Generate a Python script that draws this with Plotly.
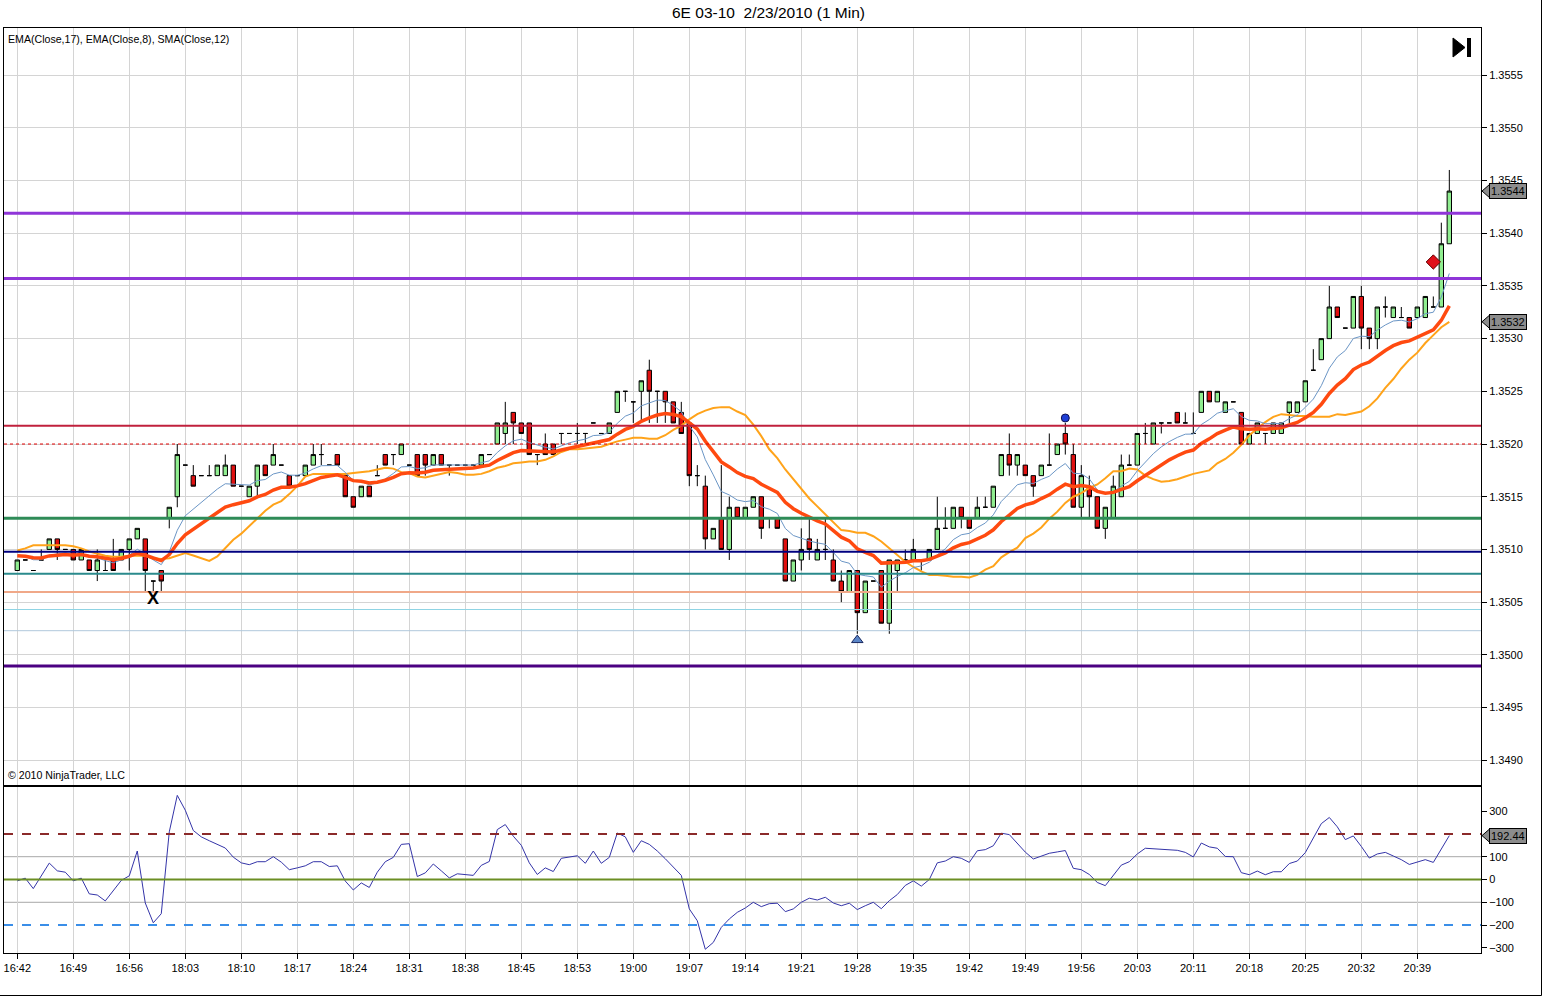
import plotly.graph_objects as go

# ---------------- figure geometry ----------------
W, H = 1543, 997
ML, MR, MT, MB = 4, 62, 28, 44
PW = W - ML - MR
PH = H - MT - MB

FONT = "Arial, 'Liberation Sans', sans-serif"

# ---------------- data ----------------
BASE = 1.3500      # prices below are in pips (0.0001) above 1.3500
TICK = 0.0001

time_labels = ["16:42", "16:49", "16:56", "18:03", "18:10", "18:17", "18:24", "18:31",
               "18:38", "18:45", "18:53", "19:00", "19:07", "19:14", "19:21", "19:28",
               "19:35", "19:42", "19:49", "19:56", "20:03", "20:11", "20:18", "20:25",
               "20:32", "20:39"]
label_step = 7

open_pips = [8, 9, 8, 9, 10, 11, 10, 10, 9, 9,
             8, 8, 9, 9, 10, 11, 11, 7, 8, 13,
             15, 18, 17, 17, 17, 17, 17, 18, 16, 15,
             16, 18, 18, 18, 17, 17, 17, 18, 19, 18,
             19, 17, 15, 15, 16, 17, 19, 19, 19, 18,
             19, 19, 18, 19, 18, 18, 18, 18, 18, 19,
             20, 21, 23, 22, 22, 19, 20, 20, 21, 21,
             21, 21, 22, 21, 21, 23, 25, 24, 25, 27,
             25, 25, 24, 23, 22, 17, 16, 11, 13, 10,
             14, 13, 14, 15, 13, 13, 11, 7, 9, 11,
             9, 10, 9, 7, 6, 8, 4, 7, 8, 3,
             8, 9, 9, 9, 9, 10, 12, 12, 14, 13,
             13, 14, 14, 17, 19, 18, 18, 17, 17, 18,
             19, 21, 19, 14, 16, 15, 12, 13, 15, 18,
             18, 21, 20, 22, 22, 23, 22, 21, 23, 25,
             24, 23, 24, 23, 20, 21, 21, 21, 21, 23,
             23, 24, 27, 28, 30, 33, 31, 31, 34, 31,
             30, 33, 32, 32, 32, 32, 32, 33, 33, 39]

high_pips = [9, 9, 8, 10, 11, 11, 10, 10, 10, 9,
             10, 9, 11, 10, 11, 12, 11, 7, 8, 14,
             20, 18, 18, 17, 18, 18, 19, 18, 16, 16,
             18, 18, 20, 18, 17, 17, 18, 20, 20, 18,
             19, 17, 15, 16, 16, 18, 19, 19, 20, 18,
             19, 19, 19, 19, 18, 18, 18, 18, 19, 19,
             22, 24, 23, 22, 22, 19, 21, 20, 21, 21,
             22, 21, 22, 21, 22, 25, 25, 24, 26, 28,
             25, 25, 24, 24, 22, 18, 17, 12, 18, 15,
             14, 14, 15, 15, 13, 13, 11, 9, 12, 13,
             11, 13, 10, 8, 8, 8, 7, 7, 8, 9,
             9, 10, 11, 9, 10, 15, 14, 14, 14, 13,
             15, 15, 16, 19, 21, 19, 18, 17, 18, 21,
             20, 22, 20, 18, 17, 15, 14, 17, 19, 19,
             21, 22, 22, 22, 22, 23, 23, 23, 25, 25,
             25, 24, 24, 23, 21, 22, 21, 22, 22, 24,
             24, 26, 29, 30, 35, 33, 31, 34, 35, 31,
             33, 34, 33, 33, 32, 33, 34, 34, 41, 46]

low_pips = [8, 9, 8, 9, 10, 9, 10, 9, 9, 8,
            7, 8, 8, 9, 8, 11, 6, 6, 6, 12,
            14, 18, 16, 17, 17, 17, 17, 16, 16, 15,
            15, 17, 18, 18, 16, 17, 17, 18, 18, 18,
            18, 15, 14, 15, 15, 17, 18, 18, 19, 18,
            17, 17, 18, 18, 17, 18, 18, 18, 18, 19,
            20, 20, 20, 21, 19, 18, 19, 19, 20, 21,
            20, 20, 22, 21, 21, 23, 24, 22, 22, 22,
            22, 22, 22, 21, 16, 16, 10, 11, 10, 9,
            13, 13, 14, 11, 12, 12, 7, 7, 8, 9,
            9, 9, 7, 5, 6, 2, 4, 7, 3, 2,
            6, 9, 9, 8, 9, 10, 12, 12, 12, 12,
            13, 14, 14, 17, 17, 17, 17, 15, 17, 18,
            19, 19, 14, 13, 13, 12, 11, 13, 15, 18,
            18, 20, 20, 21, 22, 22, 22, 21, 23, 24,
            24, 23, 24, 20, 20, 21, 20, 21, 21, 22,
            23, 24, 27, 28, 30, 32, 31, 31, 29, 29,
            29, 32, 32, 32, 31, 32, 32, 33, 33, 39]

close_pips = [9, 9, 8, 9, 11, 10, 10, 9, 10, 8,
              9, 8, 8, 10, 11, 12, 8, 7, 7, 14,
              19, 18, 16, 17, 17, 18, 18, 16, 16, 16,
              18, 17, 19, 18, 16, 17, 18, 19, 19, 18,
              18, 15, 14, 16, 15, 17, 18, 19, 20, 18,
              17, 18, 19, 18, 18, 18, 18, 18, 19, 19,
              22, 22, 22, 21, 19, 19, 19, 19, 21, 21,
              21, 21, 22, 21, 22, 25, 25, 24, 26, 25,
              25, 24, 22, 21, 17, 17, 11, 12, 10, 14,
              13, 14, 15, 12, 13, 12, 7, 9, 10, 10,
              10, 10, 7, 6, 8, 4, 7, 7, 3, 9,
              9, 9, 10, 9, 10, 12, 12, 14, 13, 12,
              14, 14, 16, 19, 18, 19, 17, 16, 18, 18,
              20, 20, 14, 17, 15, 12, 14, 16, 18, 18,
              21, 21, 22, 22, 22, 22, 22, 21, 25, 24,
              25, 24, 24, 20, 21, 22, 21, 22, 22, 24,
              24, 26, 27, 30, 33, 32, 31, 34, 31, 30,
              33, 33, 33, 32, 31, 33, 34, 33, 39, 44]

cci_values = [-6, 6, -40, 16, 72, 38, 32, -6, 6, -63,
              -68, -94, -48, -4, 16, 125, -103, -190, -150, 209,
              369, 304, 215, 187, 170, 154, 138, 98, 73, 65,
              78, 78, 100, 76, 43, 51, 60, 78, 78, 57,
              60, -7, -46, -15, -35, 32, 78, 97, 154, 157,
              13, 29, 68, 38, 7, 25, 22, 18, 62, 79,
              219, 241, 190, 150, 73, 22, 51, 35, 93, 100,
              104, 71, 125, 71, 97, 204, 187, 119, 170, 154,
              125, 91, 54, 18, -129, -181, -306, -276, -210, -173,
              -144, -125, -100, -119, -106, -104, -141, -129, -100, -82,
              -90, -78, -103, -115, -104, -132, -115, -100, -128, -93,
              -66, -26, -6, -29, 0, 73, 81, 100, 93, 75,
              126, 131, 148, 203, 197, 156, 120, 90, 104, 115,
              121, 127, 49, 43, 22, -13, -27, 16, 63, 78,
              112, 137, 134, 133, 128, 128, 119, 99, 160, 143,
              137, 101, 100, 30, 21, 37, 21, 34, 34, 70,
              81, 118, 182, 245, 272, 231, 175, 191, 145, 94,
              112, 119, 103, 87, 66, 78, 87, 75, 134, 192.44]

# indicator settings (from the chart legend) and start values
EMA_SLOW_N, EMA_FAST_N, SMA_N, SMA_SHIFT = 17, 8, 12, 6
ema_slow_start = 9.4
ema_fast_start = 9.4
sma_head = [9.9, 10.1, 10.4, 10.4, 10.4, 10.4, 10.4, 10.3, 10.1, 9.8,
            9.6, 9.4, 9.3, 9.3, 9.4, 9.4, 9.4]

# horizontal drawn levels (pips above 1.3500)
level_pips = [41.9, 35.7, 21.74, 20.0, 12.95, 9.78, 7.7, 5.96, 4.3, 2.29, -1.06]
level_styles = [("#8f35d8", 3, "solid"), ("#8f35d8", 3, "solid"), ("#c0203c", 2, "solid"),
                ("#e00000", 1, "dot"), ("#2e8b57", 3, "solid"), ("#000080", 2, "solid"),
                ("#2a8a8c", 2, "solid"), ("#f0a888", 2, "solid"), ("#8fd4e4", 1, "solid"),
                ("#b0c8dc", 1, "solid"), ("#4b0082", 3, "solid")]

# signal markers
x_mark_bar, x_mark_pips = 17, 5.4
tri_bar, tri_pips = 105, 1.4
dot_bar, dot_pips = 131, 22.47
dia_bar, dia_pips = 177, 37.27

price_labels = [44, 31.6]   # right-axis price flags (pips)
cci_level_main = [200, 0, -200]
cci_level_grid = [100, -100]

# ---------------- derived ----------------
n = len(close_pips)
bars = list(range(n))
to_price = lambda v: BASE + v * TICK
O = [to_price(v) for v in open_pips]
Hh = [to_price(v) for v in high_pips]
L = [to_price(v) for v in low_pips]
C = [to_price(v) for v in close_pips]


def ema(vals, period, start):
    a = 2.0 / (period + 1)
    out = [start]
    for v in vals[1:]:
        out.append(out[-1] + a * (v - out[-1]))
    return out


ema_slow = [to_price(v) for v in ema(close_pips, EMA_SLOW_N, ema_slow_start)]
ema_fast = [to_price(v) for v in ema(close_pips, EMA_FAST_N, ema_fast_start)]
sma_line = []
for b in bars:
    src = b - SMA_SHIFT
    if src < SMA_N - 1:
        sma_line.append(to_price(sma_head[b]))
    else:
        win = close_pips[src - SMA_N + 1: src + 1]
        sma_line.append(to_price(sum(win) / SMA_N))

# ---------------- axes mapping helpers ----------------
X_RANGE = [-1.66, 182.96]
Y_MAIN = [to_price(-12.35), to_price(59.47)]
Y_LOW = [-322.4, 405.7]
MAIN_DOM = [(H - MB - 785) / PH, 1.0]
LOW_DOM = [0.0, (H - MB - 787) / PH]


def px_x(px):
    return (px - ML) / PW


def px_y(py):
    return (H - MB - py) / PH


def price_to_paper(p):
    return MAIN_DOM[0] + (p - Y_MAIN[0]) / (Y_MAIN[1] - Y_MAIN[0]) * (MAIN_DOM[1] - MAIN_DOM[0])


def cci_to_paper(v):
    return LOW_DOM[0] + (v - Y_LOW[0]) / (Y_LOW[1] - Y_LOW[0]) * (LOW_DOM[1] - LOW_DOM[0])


# ---------------- traces ----------------
fig = go.Figure()

fig.add_trace(go.Candlestick(
    x=bars, open=O, high=Hh, low=L, close=C,
    increasing=dict(line=dict(color="black", width=1), fillcolor="#90ee90"),
    decreasing=dict(line=dict(color="black", width=1), fillcolor="#e01010"),
    whiskerwidth=0, hoverinfo="skip", showlegend=False, xaxis="x", yaxis="y"))

fig.add_trace(go.Scatter(x=bars, y=sma_line, mode="lines", line=dict(color="#ffa31a", width=2),
                         hoverinfo="skip", showlegend=False, xaxis="x", yaxis="y"))
fig.add_trace(go.Scatter(x=bars, y=ema_fast, mode="lines", line=dict(color="#6b96c6", width=1),
                         hoverinfo="skip", showlegend=False, xaxis="x", yaxis="y"))
fig.add_trace(go.Scatter(x=bars, y=ema_slow, mode="lines", line=dict(color="#ff4a10", width=3.5),
                         hoverinfo="skip", showlegend=False, xaxis="x", yaxis="y"))

# markers
fig.add_trace(go.Scatter(x=[tri_bar], y=[to_price(tri_pips)], mode="markers",
                         marker=dict(symbol="triangle-up", size=10, color="#5b86c8",
                                     line=dict(color="#1a2a60", width=1)),
                         hoverinfo="skip", showlegend=False, xaxis="x", yaxis="y"))
fig.add_trace(go.Scatter(x=[dot_bar], y=[to_price(dot_pips)], mode="markers",
                         marker=dict(symbol="circle", size=8, color="#1f3fd6",
                                     line=dict(color="#101050", width=1)),
                         hoverinfo="skip", showlegend=False, xaxis="x", yaxis="y"))
fig.add_trace(go.Scatter(x=[dia_bar], y=[to_price(dia_pips)], mode="markers",
                         marker=dict(symbol="diamond", size=11, color="#e0101a",
                                     line=dict(color="#600000", width=1)),
                         hoverinfo="skip", showlegend=False, xaxis="x", yaxis="y"))

# CCI
fig.add_trace(go.Scatter(x=bars, y=cci_values, mode="lines", line=dict(color="#3434a8", width=1),
                         hoverinfo="skip", showlegend=False, xaxis="x2", yaxis="y2"))

# ---------------- shapes ----------------
shapes = []
for lv, (col, wd, dash) in zip(level_pips, level_styles):
    shapes.append(dict(type="line", xref="x domain", yref="y", x0=0, x1=1,
                       y0=to_price(lv), y1=to_price(lv),
                       line=dict(color=col, width=wd, dash=dash), layer="above"))

for v in cci_level_grid:
    shapes.append(dict(type="line", xref="x2 domain", yref="y2", x0=0, x1=1, y0=v, y1=v,
                       line=dict(color="#a8a8a8", width=1), layer="below"))
cci_styles = [("#8b2a2a", 2, "dash"), ("#6b8e23", 2, "solid"), ("#3a8ee8", 2, "dash")]
for v, (col, wd, dash) in zip(cci_level_main, cci_styles):
    shapes.append(dict(type="line", xref="x2 domain", yref="y2", x0=0, x1=1, y0=v, y1=v,
                       line=dict(color=col, width=wd, dash=dash), layer="above"))

# price flag tips
flag_half = 7
for pv in price_labels:
    yc = price_to_paper(to_price(pv))
    hh = flag_half / PH
    shapes.append(dict(type="path", xref="paper", yref="paper",
                       path=f"M {px_x(1482)},{yc} L {px_x(1490)},{yc + hh} L {px_x(1490)},{yc - hh} Z",
                       fillcolor="#8c8c8c", line=dict(color="black", width=1), layer="above"))
yc = cci_to_paper(cci_values[-1])
shapes.append(dict(type="path", xref="paper", yref="paper",
                   path=f"M {px_x(1482)},{yc} L {px_x(1490)},{yc + flag_half / PH} L {px_x(1490)},{yc - flag_half / PH} Z",
                   fillcolor="#8c8c8c", line=dict(color="black", width=1), layer="above"))

# "jump to end" icon
shapes.append(dict(type="path", xref="paper", yref="paper",
                   path=f"M {px_x(1453)},{px_y(38)} L {px_x(1465)},{px_y(47.5)} L {px_x(1453)},{px_y(57)} Z",
                   fillcolor="black", line=dict(color="black", width=1)))
shapes.append(dict(type="rect", xref="paper", yref="paper",
                   x0=px_x(1467), x1=px_x(1471), y0=px_y(57), y1=px_y(38),
                   fillcolor="black", line=dict(color="black", width=0)))
# outer frame
shapes.append(dict(type="line", xref="paper", yref="paper", x0=px_x(0), x1=px_x(1541.5),
                   y0=px_y(995.5), y1=px_y(995.5), line=dict(color="black", width=1)))
shapes.append(dict(type="line", xref="paper", yref="paper", x0=px_x(1541.5), x1=px_x(1541.5),
                   y0=px_y(995.5), y1=px_y(0), line=dict(color="black", width=1)))

# ---------------- annotations ----------------
ann = []
ann.append(dict(xref="paper", yref="paper", x=px_x(768), y=px_y(13), text="6E 03-10 \u00a02/23/2010 (1 Min)",
                showarrow=False, font=dict(family=FONT, size=15.5, color="black"),
                xanchor="center", yanchor="middle"))
ann.append(dict(xref="paper", yref="paper", x=px_x(6), y=px_y(39),
                text="EMA(Close,17), EMA(Close,8), SMA(Close,12)", showarrow=False,
                font=dict(family=FONT, size=10.6, color="black"), xanchor="left", yanchor="middle"))
ann.append(dict(xref="paper", yref="paper", x=px_x(6), y=px_y(775),
                text="\u00a9 2010 NinjaTrader, LLC", showarrow=False,
                font=dict(family=FONT, size=10.6, color="black"), xanchor="left", yanchor="middle"))
ann.append(dict(xref="x", yref="y", x=x_mark_bar, y=to_price(x_mark_pips), text="<b>X</b>",
                showarrow=False, font=dict(family=FONT, size=18, color="black"),
                xanchor="center", yanchor="middle"))
for pv in price_labels:
    ann.append(dict(xref="paper", yref="y", x=px_x(1489), y=to_price(pv),
                    text=f"{to_price(pv):.4f}", showarrow=False, xanchor="left", yanchor="middle",
                    font=dict(family=FONT, size=11, color="black"), bgcolor="#8c8c8c",
                    bordercolor="black", borderwidth=1, borderpad=1))
ann.append(dict(xref="paper", yref="y2", x=px_x(1489), y=cci_values[-1],
                text=f"{cci_values[-1]:.2f}", showarrow=False, xanchor="left", yanchor="middle",
                font=dict(family=FONT, size=11, color="black"), bgcolor="#8c8c8c",
                bordercolor="black", borderwidth=1, borderpad=1))

# ---------------- layout ----------------
grid_ticks = [i * label_step for i in range(len(time_labels))]
price_ticks = [to_price(-10 + 5 * i) for i in range(14)]

fig.update_layout(
    width=W, height=H,
    margin=dict(l=ML, r=MR, t=MT, b=MB, pad=0),
    paper_bgcolor="white", plot_bgcolor="white",
    font=dict(family=FONT, size=11, color="black"),
    boxgap=0.22,
    showlegend=False,
    hovermode=False,
    shapes=shapes, annotations=ann,
    xaxis=dict(domain=[0, 1], anchor="y", range=X_RANGE, tickvals=grid_ticks, showticklabels=False,
               ticks="", showgrid=True, gridcolor="#d4d4d4", gridwidth=1, zeroline=False,
               showline=True, linecolor="black", linewidth=1, mirror=True,
               rangeslider=dict(visible=False), fixedrange=True),
    yaxis=dict(domain=MAIN_DOM, anchor="x", side="right", range=Y_MAIN, tickvals=price_ticks,
               tickformat=".4f", ticks="outside", ticklen=5, tickcolor="black",
               showgrid=True, gridcolor="#d4d4d4", gridwidth=1, zeroline=False,
               showline=True, linecolor="black", linewidth=1, mirror=True,
               tickfont=dict(family=FONT, size=11), fixedrange=True),
    xaxis2=dict(domain=[0, 1], anchor="y2", range=X_RANGE, tickvals=grid_ticks, ticktext=time_labels,
                ticks="outside", ticklen=5, tickcolor="black", showgrid=True, gridcolor="#d4d4d4",
                zeroline=False, showline=True, linecolor="black", linewidth=1, mirror=True,
                tickfont=dict(family=FONT, size=11), fixedrange=True),
    yaxis2=dict(domain=LOW_DOM, anchor="x2", side="right", range=Y_LOW,
                tickvals=[-300, -200, -100, 0, 100, 300], ticks="outside", ticklen=5, tickcolor="black",
                showgrid=False, zeroline=False, showline=True, linecolor="black", linewidth=1,
                mirror=True, tickfont=dict(family=FONT, size=11), fixedrange=True),
)

fig.write_html("out.html", config={"displayModeBar": False, "staticPlot": True},
               post_script="document.body.style.margin='0';")
